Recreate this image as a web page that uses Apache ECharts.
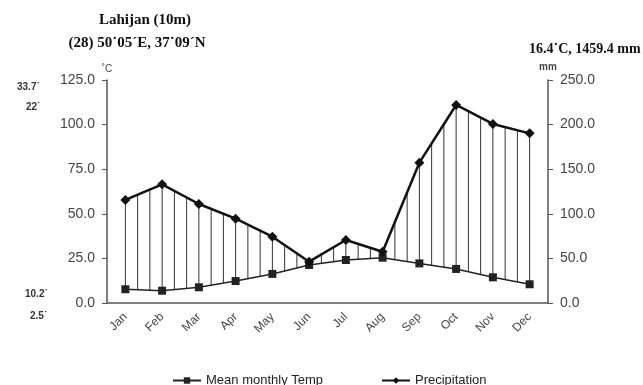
<!DOCTYPE html>
<html><head><meta charset="utf-8">
<script src="https://cdn.jsdelivr.net/npm/echarts@6/dist/echarts.min.js"></script>
<style>html,body{margin:0;padding:0;background:#fff}#c{width:643px;height:385px}</style>
</head><body><div id="c"></div>
<script>
const months = ['Jan','Feb','Mar','Apr','May','Jun','Jul','Aug','Sep','Oct','Nov','Dec'];
const temp = [7.7, 6.9, 8.8, 12.3, 16.3, 21.3, 24.1, 25.4, 22.2, 19.1, 14.4, 10.5];
const precip = [115.5, 133, 111, 94.5, 74.3, 46.3, 70.6, 57.5, 157.3, 222, 200.7, 190.2];
const leftTicks = {min: 0, max: 125, interval: 25};
const rightTicks = {min: 0, max: 250, interval: 50};

const ratio = leftTicks.max / rightTicks.max;
const chart = echarts.init(document.getElementById('c'), null, {renderer: 'canvas'});
const axisCol = '#555';
const txtCol = '#444';
const serif = '"Liberation Serif","Times New Roman",serif';
const sans = '"Liberation Sans",Arial,sans-serif';
const legendText = {fontFamily: sans, fontSize: 13, color: '#222'};

chart.setOption({
  animation: false,
  backgroundColor: '#fff',
  title: [
    {text: 'Lahijan (10m)', left: 140, top: 8, textAlign: 'center', textStyle: {fontFamily: serif, fontWeight: 'bold', fontSize: 15, color: '#111'}},
    {text: '(28) 50\u02d905\u00b4E, 37\u02d909\u00b4N', left: 132, top: 31, textAlign: 'center', textStyle: {fontFamily: serif, fontWeight: 'bold', fontSize: 15, color: '#111'}},
    {text: '16.4\u02d9C, 1459.4 mm', left: 524, top: 37, textStyle: {fontFamily: serif, fontWeight: 'bold', fontSize: 14, color: '#111'}},
    {text: '33.7\u02d9', left: 12, top: 77, textStyle: {fontFamily: sans, fontWeight: 'bold', fontSize: 10, color: '#333'}},
    {text: '22\u02d9', left: 21, top: 97, textStyle: {fontFamily: sans, fontWeight: 'bold', fontSize: 10, color: '#333'}},
    {text: '10.2\u02d9', left: 20, top: 284, textStyle: {fontFamily: sans, fontWeight: 'bold', fontSize: 10, color: '#333'}},
    {text: '2.5\u02d9', left: 25, top: 306, textStyle: {fontFamily: sans, fontWeight: 'bold', fontSize: 10, color: '#333'}}
  ],
  legend: [
    {top: 374, left: 172, itemWidth: 28, itemHeight: 8, padding: 0, textStyle: legendText, data: ['Mean monthly Temp']},
    {top: 374, left: 381, itemWidth: 28, itemHeight: 8, padding: 0, textStyle: legendText, data: ['Precipitation']}
  ],
  grid: {left: 107, right: 95, top: 80, bottom: 82},
  xAxis: {
    type: 'category', data: months, boundaryGap: true,
    axisLine: {lineStyle: {color: axisCol, width: 1.5}},
    axisTick: {lineStyle: {color: axisCol}, length: 5},
    axisLabel: {rotate: 45, fontFamily: sans, fontSize: 12, color: txtCol, margin: 12}
  },
  yAxis: [
    {type: 'value', name: '\u02daC', nameGap: 6, nameTextStyle: {fontFamily: sans, fontSize: 10, color: txtCol, align: 'center'},
     min: leftTicks.min, max: leftTicks.max, interval: leftTicks.interval,
     axisLine: {show: true, lineStyle: {color: axisCol, width: 1.5}},
     axisTick: {show: true, length: 5, lineStyle: {color: axisCol}},
     splitLine: {show: false},
     axisLabel: {formatter: v => v.toFixed(1), fontFamily: sans, fontSize: 14, color: txtCol, margin: 12}},
    {type: 'value', name: 'mm', nameGap: 8, nameTextStyle: {fontFamily: sans, fontSize: 10, fontWeight: 'bold', color: txtCol, align: 'center'},
     min: rightTicks.min, max: rightTicks.max, interval: rightTicks.interval, position: 'right',
     axisLine: {show: true, lineStyle: {color: axisCol, width: 1.5}},
     axisTick: {show: true, length: 5, lineStyle: {color: axisCol}},
     splitLine: {show: false},
     axisLabel: {formatter: v => v.toFixed(1), fontFamily: sans, fontSize: 14, color: txtCol, margin: 12}}
  ],
  series: [
    {
      type: 'custom', name: 'hatch', xAxisIndex: 0, yAxisIndex: 0, z: 1, silent: true,
      data: months.slice(0, 11).map((m, i) => [i]),
      renderItem: function (params, api) {
        const i = api.value(0);
        const children = [];
        const fr = i === 10 ? [0, 1/3, 2/3, 1] : [0, 1/3, 2/3];
        const t0 = api.coord([i, temp[i]]), t1 = api.coord([i + 1, temp[i + 1]]);
        const p0 = api.coord([i, precip[i] * ratio]), p1 = api.coord([i + 1, precip[i + 1] * ratio]);
        fr.forEach(f => {
          const x = t0[0] + (t1[0] - t0[0]) * f;
          const yt = t0[1] + (t1[1] - t0[1]) * f;
          const yp = p0[1] + (p1[1] - p0[1]) * f;
          children.push({type: 'line', shape: {x1: x, y1: yt, x2: x, y2: yp}, style: {stroke: '#333', lineWidth: 1}});
        });
        return {type: 'group', children: children};
      }
    },
    {
      name: 'Mean monthly Temp', type: 'line', yAxisIndex: 0, data: temp, z: 3,
      symbol: 'rect', symbolSize: 8,
      lineStyle: {color: '#222', width: 1.5},
      itemStyle: {color: '#222'}
    },
    {
      name: 'Precipitation', type: 'line', yAxisIndex: 1, data: precip, z: 4,
      symbol: 'diamond', symbolSize: 10,
      lineStyle: {color: '#111', width: 2.5},
      itemStyle: {color: '#111'}
    }
  ]
});
</script></body></html>
